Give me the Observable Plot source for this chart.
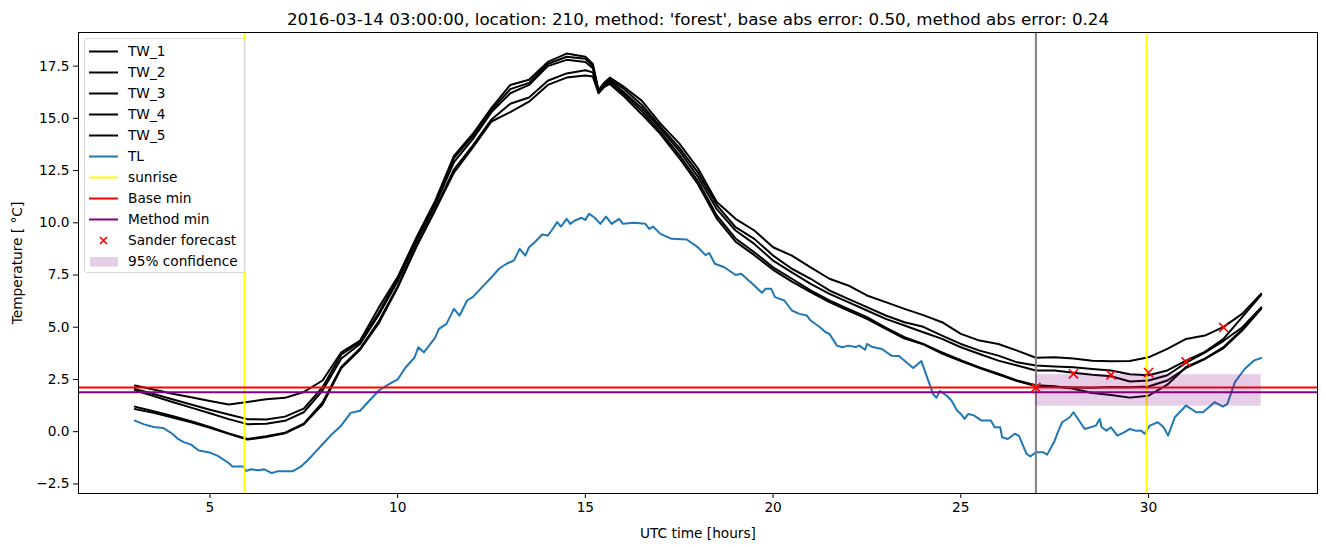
<!DOCTYPE html>
<html><head><meta charset="utf-8">
<script src="https://cdn.jsdelivr.net/npm/d3@7"></script>
<script src="https://cdn.jsdelivr.net/npm/@observablehq/plot@0.6"></script>
<style>
body{margin:0;background:#fff;font-family:"DejaVu Sans",sans-serif;}
#wrap{position:relative;width:1326px;height:547px;}
#legend{position:absolute;left:84px;top:38px;width:161px;height:235px;background:rgba(255,255,255,0.8);border:1px solid #d6d6d6;border-radius:3px;box-sizing:border-box;font-size:13.7px;color:#000;}
.row{position:absolute;left:0;height:21px;width:158px;display:flex;align-items:center;}
.row svg{position:absolute;left:3px;top:0;}
.row span{position:absolute;left:43px;line-height:21px;white-space:nowrap;}
</style></head>
<body><div id="wrap"><div id="legend"></div></div>
<script>
const titleText = "2016-03-14 03:00:00, location: 210, method: 'forest', base abs error: 0.50, method abs error: 0.24";
const xLabel = "UTC time [hours]";
const yLabel = "Temperature [ °C]";
const xTicks = [5, 10, 15, 20, 25, 30];
const yTicks = [-2.5, 0, 2.5, 5, 7.5, 10, 12.5, 15, 17.5];

const hours = [3,3.5,4,4.5,5,5.5,6,6.5,7,7.5, 8,8.5,9,9.5,10,10.5,11,11.5,12,12.5, 13,13.5,14,14.5,15,15.2,15.35,15.5,15.65,16, 16.5,17,17.5,18,18.5,19,19.5,20,20.5,21, 21.5,22,22.5,23,23.5,24,24.5,25,25.5,26, 26.5,27,27.5,28,28.5,29,29.5,30,30.5,31, 31.5,32,32.5,33];
const tw1 = [2.21,2.02,1.82,1.65,1.47,1.30,1.42,1.55,1.62,1.90, 2.45,3.80,4.36,5.95,7.40,9.30,11.05,13.20,14.25,15.50, 16.60,16.85,17.70,18.10,17.95,17.60,16.35,16.70,16.95,16.55, 15.85,14.75,13.80,12.60,11.00,10.19,9.63,8.83,8.43,7.87, 7.32,7.00,6.52,6.20,5.88,5.58,5.24,4.68,4.36,4.20, 3.88,3.54,3.56,3.50,3.40,3.37,3.38,3.56,3.96,4.44, 4.60,5.02,5.65,6.60];
const tw2 = [2.05,1.80,1.55,1.30,1.05,0.82,0.60,0.58,0.72,1.10, 2.13,3.70,4.28,5.70,7.30,9.20,10.95,13.10,14.15,15.40, 16.40,16.70,17.60,17.95,17.85,17.50,16.30,16.65,16.85,16.45, 15.65,14.60,13.60,12.40,10.85,9.79,9.23,8.43,7.80,7.32, 6.76,6.36,5.96,5.56,5.24,5.02,4.60,4.20,3.88,3.64, 3.32,3.17,3.12,3.08,3.00,2.93,2.75,2.70,2.93,3.40, 3.82,4.45,5.50,6.55];
const tw3 = [1.98,1.70,1.42,1.15,0.88,0.60,0.36,0.38,0.52,0.93, 1.97,3.50,4.20,5.60,7.20,9.10,10.85,12.90,14.00,15.30, 16.20,16.60,17.50,17.80,17.70,17.40,16.30,16.60,16.80,16.30, 15.50,14.50,13.45,12.20,10.65,9.63,8.99,8.19,7.63,7.08, 6.60,6.20,5.80,5.40,5.08,4.76,4.44,4.04,3.72,3.40, 3.17,2.93,2.93,2.82,2.72,2.65,2.40,2.45,2.70,3.30, 3.78,4.35,5.00,5.95];
const tw4 = [1.20,0.98,0.75,0.50,0.22,-0.08,-0.35,-0.22,-0.05,0.38, 1.40,3.10,3.98,5.30,6.95,8.90,10.65,12.55,13.70,14.95, 15.70,16.00,16.80,17.15,17.30,17.20,16.25,16.55,16.70,16.20, 15.35,14.35,13.25,12.00,10.35,9.25,8.59,7.87,7.32,6.76, 6.28,5.88,5.48,4.98,4.52,4.20,3.80,3.42,3.08,2.77, 2.45,2.22,2.17,2.05,1.85,1.75,1.63,1.72,2.25,3.10, 3.50,4.05,4.90,5.92];
const tw5 = [1.09,0.90,0.68,0.45,0.18,-0.10,-0.38,-0.25,-0.08,0.35, 1.30,3.05,3.92,5.20,6.90,8.85,10.60,12.40,13.60,14.85, 15.30,15.80,16.60,16.95,17.05,17.00,16.20,16.50,16.65,16.10, 15.20,14.25,13.10,11.85,10.20,9.10,8.45,7.75,7.18,6.68, 6.20,5.80,5.40,4.92,4.46,4.18,3.74,3.38,3.04,2.74, 2.42,2.18,2.14,2.12,2.10,2.14,2.13,2.16,2.45,3.05, 3.48,4.00,4.85,5.88];
const twNames = ["TW_1","TW_2","TW_3","TW_4","TW_5"];

const tlHours = [3.0,3.25,3.5,3.75,4.0,4.15,4.3,4.5,4.7,5.0,5.2,5.5,5.6,5.9,5.95,6.1,6.3,6.45,6.65,6.8,7.2,7.4,7.6,7.8,8.0,8.25,8.5,8.75,9.0,9.25,9.5,9.75,10.0,10.2,10.45,10.55,10.7,11.0,11.1,11.3,11.5,11.65,11.85,12.0,12.25,12.5,12.7,12.9,13.1,13.25,13.4,13.5,13.65,13.85,14.0,14.1,14.25,14.35,14.5,14.6,14.72,14.9,15.0,15.1,15.25,15.4,15.55,15.7,15.9,16.0,16.3,16.6,16.7,16.8,17.0,17.3,17.7,18.0,18.2,18.3,18.45,18.7,19.0,19.15,19.35,19.5,19.7,19.8,19.95,20.05,20.3,20.5,20.7,20.9,21.0,21.25,21.4,21.5,21.7,21.85,22.0,22.2,22.3,22.45,22.5,22.65,22.9,23.15,23.35,23.55,23.73,23.95,24.1,24.26,24.35,24.44,24.62,24.75,24.9,25.0,25.1,25.2,25.35,25.55,25.8,25.9,26.05,26.1,26.25,26.44,26.55,26.75,26.85,27.0,27.2,27.3,27.5,27.6,27.7,27.9,28.0,28.3,28.6,28.7,28.75,28.88,29.0,29.17,29.35,29.5,29.65,29.8,29.9,30.03,30.25,30.4,30.52,30.7,31.0,31.27,31.45,31.76,31.98,32.1,32.3,32.56,32.8,33.0];
const tlTemps = [0.53,0.35,0.22,0.18,-0.1,-0.35,-0.5,-0.62,-0.9,-1.0,-1.15,-1.5,-1.67,-1.67,-1.88,-1.8,-1.85,-1.8,-1.98,-1.9,-1.9,-1.7,-1.38,-0.99,-0.6,-0.12,0.3,0.9,1.0,1.49,1.97,2.25,2.5,3.05,3.55,4.04,3.8,4.5,4.92,5.16,5.88,5.56,6.28,6.44,6.92,7.39,7.8,8.04,8.2,8.75,8.43,8.83,9.07,9.44,9.39,9.63,10.03,9.82,10.19,9.95,10.11,10.24,10.14,10.43,10.24,9.95,10.3,9.95,10.19,9.95,10.0,9.95,9.71,9.82,9.47,9.23,9.2,8.82,8.45,8.55,8.04,7.87,7.5,7.56,7.24,7.0,6.65,6.84,6.84,6.44,6.28,5.8,5.64,5.56,5.32,5.0,4.76,4.68,4.12,4.04,4.12,4.05,4.12,3.92,4.2,4.05,3.96,3.64,3.62,3.32,3.05,3.38,2.61,1.81,1.62,1.94,1.73,1.49,1.01,0.85,0.61,0.85,0.78,0.53,0.53,0.21,0.21,-0.27,-0.35,-0.1,-0.2,-1.06,-1.19,-0.99,-0.99,-1.1,-0.43,0.05,0.45,0.69,0.93,0.13,0.29,0.61,0.21,0.05,0.21,-0.19,-0.03,0.13,0.05,0.05,-0.1,0.29,0.45,0.21,-0.19,0.69,1.25,0.93,0.93,1.41,1.2,1.33,2.37,3.0,3.4,3.53];

const sunrise = [5.92, 29.95];
const forecastStart = [27];
const baseMin = [2.11];
const methodMin = [1.89];
const sanderHours = [27, 28, 29, 30, 31, 32];
const sanderTemps = [2.11, 2.77, 2.72, 2.83, 3.34, 4.99];
const confStart = [27], confEnd = [33], confLow = [1.22], confHigh = [2.73];

const twData = [tw1, tw2, tw3, tw4, tw5].flatMap((vals, i) => vals.map((v, j) => ({name: twNames[i], h: hours[j], v})));
const tlData = tlHours.map((h, i) => ({h, v: tlTemps[i]}));
const sanderData = sanderHours.map((h, i) => ({h, v: sanderTemps[i]}));
const confData = confStart.map((s, i) => ({x1: s, x2: confEnd[i], y1: confLow[i], y2: confHigh[i]}));

const chart = Plot.plot({
  width: 1326, height: 547,
  marginTop: 32, marginRight: 9, marginBottom: 54, marginLeft: 78,
  style: {fontFamily: "DejaVu Sans", fontSize: "13.7px", color: "#000", background: "#fff", overflow: "visible"},
  x: {domain: [1.5, 34.5]},
  y: {domain: [-2.96, 19.11]},
  marks: [
    Plot.line(twData, {x: "h", y: "v", z: "name", stroke: "black", strokeWidth: 2}),
    Plot.line(tlData, {x: "h", y: "v", stroke: "#1f77b4", strokeWidth: 2}),
    Plot.ruleX(sunrise, {stroke: "yellow", strokeWidth: 2}),
    Plot.ruleX(forecastStart, {stroke: "gray", strokeWidth: 2}),
    Plot.ruleY(baseMin, {stroke: "red", strokeWidth: 2}),
    Plot.ruleY(methodMin, {stroke: "purple", strokeWidth: 2}),
    Plot.rect(confData, {x1: "x1", x2: "x2", y1: "y1", y2: "y2", fill: "purple", fillOpacity: 0.2}),
    Plot.dot(sanderData, {x: "h", y: "v", symbol: "times", stroke: "red", r: 4.2, strokeWidth: 1.6}),
    Plot.axisX({ticks: xTicks, tickSize: 5, tickPadding: 4, label: xLabel, labelAnchor: "center", labelArrow: "none", labelOffset: 44}),
    Plot.axisY({ticks: yTicks, tickFormat: d3.format(".1f"), tickSize: 5, tickPadding: 4, label: yLabel, labelAnchor: "center", labelArrow: "none", labelOffset: 66}),
    Plot.frame({stroke: "black", strokeWidth: 1}),
    Plot.text([titleText], {frameAnchor: "top", dy: -8, lineAnchor: "bottom", fontSize: 16.7, fill: "black"})
  ]
});
document.getElementById("wrap").prepend(chart);

// legend
const legendItems = [
  ...twNames.map(n => ({label: n, type: "line", color: "black"})),
  {label: "TL", type: "line", color: "#1f77b4"},
  {label: "sunrise", type: "line", color: "yellow"},
  {label: "Base min", type: "line", color: "red"},
  {label: "Method min", type: "line", color: "purple"},
  {label: "Sander forecast", type: "x", color: "red"},
  {label: "95% confidence", type: "patch", color: "purple"}
];
const leg = document.getElementById("legend");
legendItems.forEach((it, i) => {
  const row = document.createElement("div");
  row.className = "row";
  row.style.top = (1.5 + 21 * i) + "px";
  let sw = "";
  if (it.type === "line") sw = `<line x1="1" x2="30" y1="10.5" y2="10.5" stroke="${it.color}" stroke-width="2"/>`;
  else if (it.type === "x") sw = `<path d="M12,7L19,14M19,7L12,14" stroke="${it.color}" stroke-width="1.6" fill="none"/>`;
  else sw = `<rect x="2" y="6" width="28" height="9.5" fill="${it.color}" fill-opacity="0.2"/>`;
  row.innerHTML = `<svg width="32" height="21">${sw}</svg><span>${it.label}</span>`;
  leg.appendChild(row);
});
</script>
</body></html>
